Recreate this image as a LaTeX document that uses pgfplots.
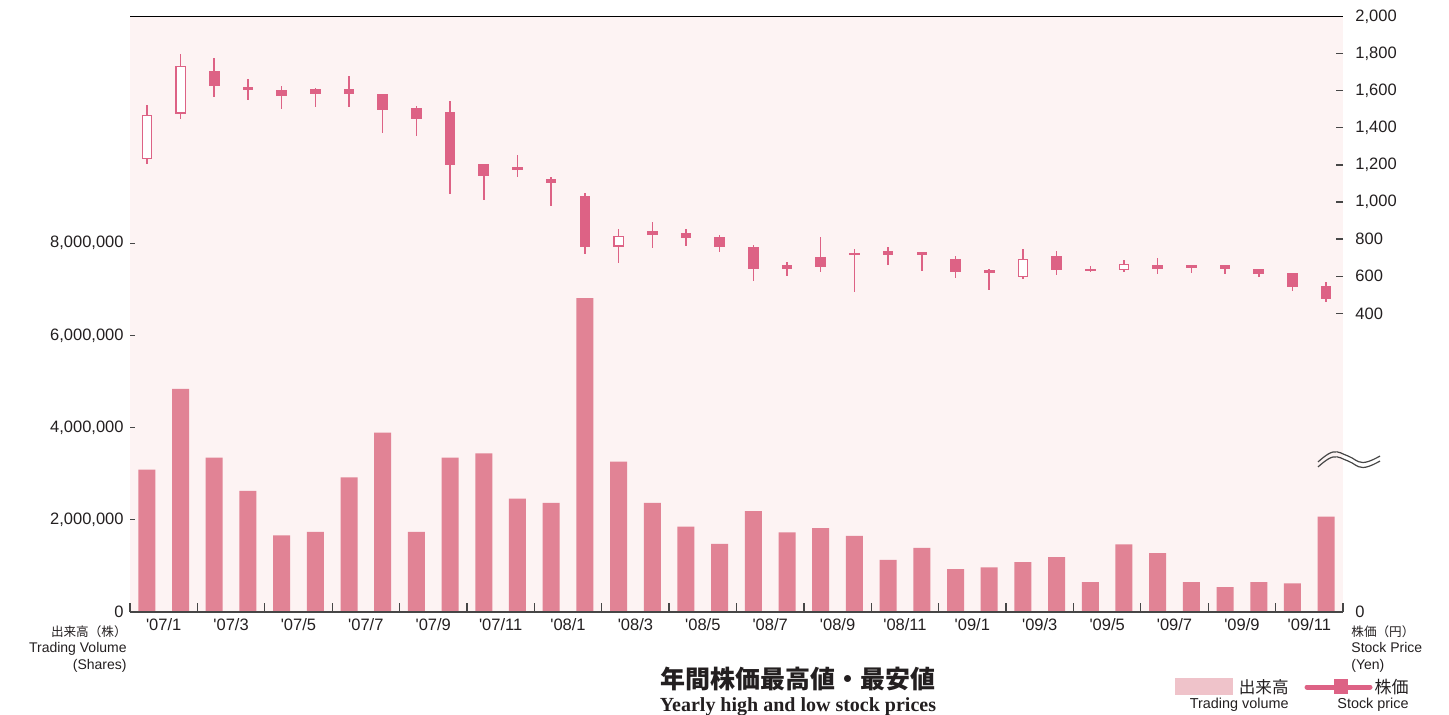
\documentclass[border=0pt]{standalone}
\usepackage{fontspec}
\setmainfont{Liberation Sans}
\newfontfamily\cjk{Noto Sans CJK JP}
\newfontfamily\serif{Liberation Serif}
\usepackage{pgfplots}
\usepackage{pgfplotstable}
\pgfplotsset{compat=1.18}
\definecolor{bgpink}{RGB}{253,243,243}
\definecolor{barpink}{RGB}{225,131,149}
\definecolor{candle}{RGB}{221,98,133}
\definecolor{legvol}{RGB}{239,195,202}
\definecolor{tickgray}{RGB}{70,70,70}
\definecolor{txt}{RGB}{35,31,32}
\newcommand\ap{\textquotesingle}

\pgfplotstableread{
x v
0 3090000
1 4840000
2 3350000
3 2630000
4 1660000
5 1740000
6 2920000
7 3890000
8 1740000
9 3350000
10 3440000
11 2460000
12 2370000
13 6810000
14 3260000
15 2370000
16 1850000
17 1480000
18 2190000
19 1730000
20 1820000
21 1650000
22 1130000
23 1390000
24 930000
25 970000
26 1080000
27 1190000
28 650000
29 1470000
30 1280000
31 650000
32 540000
33 650000
34 620000
35 2070000
}\vol

\pgfplotstableread{
x o h l c
2 1708 1777 1564 1625
3 1620 1665 1548 1605
4 1605 1625 1499 1569
5 1609 1613 1512 1582
6 1607 1677 1512 1582
7 1582 1582 1373 1496
8 1506 1517 1355 1450
9 1483 1542 1043 1200
10 1204 1204 1011 1142
11 1188 1252 1137 1175
12 1123 1133 980 1103
13 1034 1050 721 758
15 843 890 753 822
16 831 856 762 807
17 809 824 730 757
18 757 769 575 640
19 659 674 600 640
20 703 809 625 650
21 724 747 515 712
22 735 758 659 715
23 728 728 627 715
24 692 708 589 623
25 632 641 524 620
27 708 737 607 636
28 641 654 623 630
30 663 697 614 640
31 658 658 618 645
32 658 658 614 638
33 638 638 598 612
34 616 616 518 544
35 548 568 459 476
}\filled

\pgfplotstableread{
x o h l c
0 1231 1521 1204 1469
1 1477 1798 1447 1735
14 760 852 669 816
26 596 748 586 695
29 634 685 625 665
}\white

\begin{document}
\begin{tikzpicture}
\tikzset{tl/.style={font=\fontsize{8.25}{10}\selectfont, text=txt}}
% ---------- volume axis ----------
\begin{axis}[
  at={(65pt,51pt)}, anchor=south west,
  width=606.5pt, height=297.75pt, scale only axis,
  xmin=-0.5, xmax=35.5, ymin=0, ymax=12920000,
  clip=false,
  axis background/.style={fill=bgpink},
  axis line style={draw=none},
  major tick length=0pt, minor tick length=0pt,
  tick style={draw=none},
  xtick={0.5,2.5,...,34.5},
  xticklabels={\ap07/1,\ap07/3,\ap07/5,\ap07/7,\ap07/9,\ap07/11,\ap08/1,\ap08/3,\ap08/5,\ap08/7,\ap08/9,\ap08/11,\ap09/1,\ap09/3,\ap09/5,\ap09/7,\ap09/9,\ap09/11},
  ytick={0,2000000,4000000,6000000,8000000},
  scaled y ticks=false,
  /pgf/number format/assume math mode=true,
  yticklabel style={/pgf/number format/fixed, /pgf/number format/1000 sep={,}, anchor=east, inner sep=0pt, xshift=-3pt},
  xticklabel style={anchor=north, inner sep=0pt, yshift=-3pt},
  tick label style={font=\fontsize{8.25}{10}\selectfont, text=txt},
]
\addplot[ybar, bar width=8.5pt, fill=barpink, draw=none] table[x=x,y=v]{\vol};
\pgfplotsinvokeforeach{-0.5,1.5,3.5,5.5,7.5,9.5,11.5,13.5,15.5,17.5,19.5,21.5,23.5,25.5,27.5,29.5,31.5,33.5,35.5}{
  \draw[tickgray, line width=0.65pt] (axis cs:#1,0) -- ++(0pt,4.5pt);
}
\pgfplotsinvokeforeach{2000000,4000000,6000000,8000000}{
  \draw[tickgray, line width=0.65pt] (axis cs:-0.5,#1) -- ++(2.5pt,0pt);
}
\draw[tickgray, line width=0.7pt] (rel axis cs:0,0) -- (rel axis cs:1,0);
\draw[black, line width=0.65pt] (rel axis cs:0,1) -- (rel axis cs:1,1);
\end{axis}
% ---------- price axis ----------
\begin{axis}[
  at={(65pt,51pt)}, anchor=south west,
  width=606.5pt, height=297.75pt, scale only axis,
  xmin=-0.5, xmax=35.5, ymin=-1210, ymax=2000,
  clip=false,
  axis x line=none, axis y line*=right,
  axis line style={draw=none},
  major tick length=0pt, tick style={draw=none},
  ytick={400,600,...,2000},
  extra y ticks={-1210}, extra y tick labels={0},
  /pgf/number format/assume math mode=true,
  yticklabel style={/pgf/number format/1000 sep={,}, anchor=west, inner sep=0pt, xshift=6pt},
  tick label style={font=\fontsize{8.25}{10}\selectfont, text=txt},
]
\pgfplotsinvokeforeach{400,600,800,1000,1200,1400,1600,1800}{
  \draw[tickgray, line width=0.65pt] (axis cs:35.5,#1) -- ++(-3.5pt,0pt);
}
% wicks
\addplot[draw=none, mark=none, error bars/.cd, y dir=both, y explicit, error mark=none,
  error bar style={draw=candle, line width=0.75pt}]
  table[x=x, y expr={(\thisrow{h}+\thisrow{l})/2}, y error expr={(\thisrow{h}-\thisrow{l})/2}]{\filled};
\addplot[draw=none, mark=none, error bars/.cd, y dir=both, y explicit, error mark=none,
  error bar style={draw=candle, line width=0.75pt}]
  table[x=x, y expr={(\thisrow{h}+\thisrow{l})/2}, y error expr={(\thisrow{h}-\thisrow{l})/2}]{\white};
% bodies
\addplot[draw=none, mark=none, error bars/.cd, y dir=both, y explicit, error mark=none,
  error bar style={draw=candle, line width=5.3pt}]
  table[x=x, y expr={(\thisrow{o}+\thisrow{c})/2}, y error expr={abs(\thisrow{o}-\thisrow{c})/2}]{\filled};
\addplot[draw=none, mark=none, error bars/.cd, y dir=both, y explicit, error mark=none,
  error bar style={draw=candle, line width=5.3pt}]
  table[x=x, y expr={(\thisrow{o}+\thisrow{c})/2}, y error expr={abs(\thisrow{o}-\thisrow{c})/2}]{\white};
\addplot[draw=none, mark=none, error bars/.cd, y dir=both, y explicit, error mark=none,
  error bar style={draw=white, line width=4pt}]
  table[x=x, y expr={(\thisrow{o}+\thisrow{c})/2}, y error expr={abs(\thisrow{o}-\thisrow{c})/2-7}]{\white};
\end{axis}
% ---------- texts and legend (pixel coordinates) ----------
\begin{scope}[x=0.5pt, y=-0.5pt, yshift=357pt]
\node[anchor=base east, inner sep=0, text=txt, font=\cjk\fontsize{6.3}{7}\selectfont] at (127,636) {出来高（株）};
\node[anchor=base east, inner sep=0, text=txt, font=\fontsize{7}{8}\selectfont] at (127,652.5) {Trading Volume};
\node[anchor=base east, inner sep=0, text=txt, font=\fontsize{7}{8}\selectfont] at (127,669) {(Shares)};
\node[anchor=base west, inner sep=0, text=txt, font=\cjk\fontsize{6.3}{7}\selectfont] at (1351,636) {株価（円）};
\node[anchor=base west, inner sep=0, text=txt, font=\fontsize{7}{8}\selectfont] at (1351,652.5) {Stock Price};
\node[anchor=base west, inner sep=0, text=txt, font=\fontsize{7}{8}\selectfont] at (1351,669) {(Yen)};
% title
\node[inner sep=0, text=txt, font=\cjk\bfseries\fontsize{12.5}{14}\selectfont] at (798,679) {年間株価最高値・最安値};
\node[anchor=base, inner sep=0, text=txt, font=\serif\bfseries\fontsize{10}{12}\selectfont] at (798,711.5) {Yearly high and low stock prices};
% legend
\fill[legvol] (1175,678) rectangle (1233,695);
\node[anchor=east, inner sep=0, text=txt, font=\cjk\fontsize{8.3}{9}\selectfont] at (1289,687) {出来高};
\node[anchor=base east, inner sep=0, text=txt, font=\fontsize{7.2}{8}\selectfont] at (1289,708) {Trading volume};
\draw[candle, line width=2.5pt, line cap=round] (1307,687) -- (1370,687);
\fill[candle] (1334,679) rectangle (1348,694);
\node[anchor=east, inner sep=0, text=txt, font=\cjk\fontsize{8.5}{9}\selectfont] at (1409,687) {株価};
\node[anchor=base east, inner sep=0, text=txt, font=\fontsize{7.2}{8}\selectfont] at (1409,708) {Stock price};
% axis break symbol
\draw[tickgray, line width=0.6pt] plot[smooth, tension=0.7] coordinates {(1318,462) (1333,452) (1348,456) (1363,462.5) (1380,456)};
\draw[tickgray, line width=0.6pt] plot[smooth, tension=0.7] coordinates {(1318,467) (1333,457) (1348,461) (1363,467.5) (1380,461)};
\end{scope}
\pgfresetboundingbox
\path[use as bounding box] (0,0) rectangle (724.5pt,357pt);
\end{tikzpicture}
\end{document}
